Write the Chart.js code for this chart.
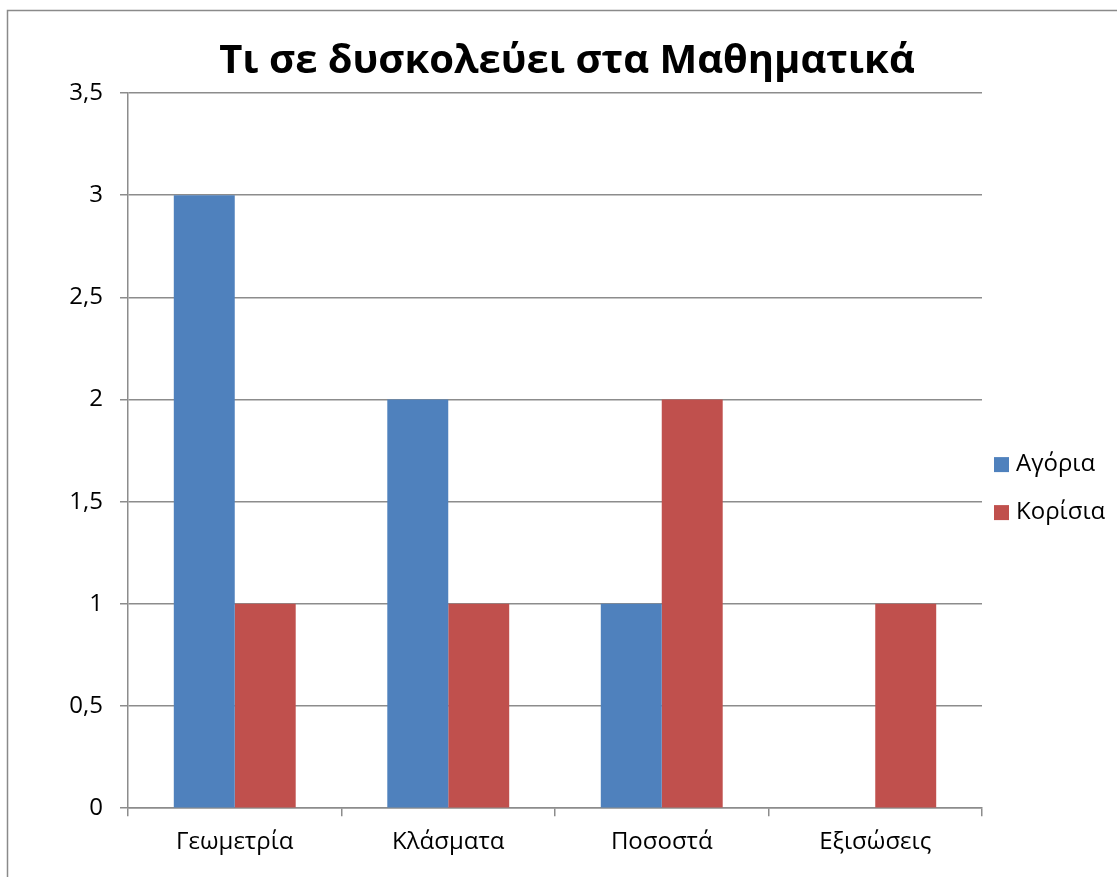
<!DOCTYPE html>
<html lang="el">
<head>
<meta charset="utf-8">
<title>Τι σε δυσκολεύει στα Μαθηματικά</title>
<script src="https://cdn.jsdelivr.net/npm/chart.js@4.4.1/dist/chart.umd.min.js"></script>
<style>
  html, body { margin: 0; padding: 0; background: #fff; }
  #wrap { width: 1117px; height: 877px; }
</style>
</head>
<body>
<div id="wrap"><canvas id="mathChart" width="1117" height="877"></canvas></div>
<script>
// Δεδομένα
const categories = ["Γεωμετρία", "Κλάσματα", "Ποσοστά", "Εξισώσεις"];
const boys = [3, 2, 1, 0];   // Αγόρια
const girls = [1, 1, 2, 1];  // Κορίσια
const seriesNames = ["Αγόρια", "Κορίσια"];
const chartTitle = "Τι σε δυσκολεύει στα Μαθηματικά";

const FONT = "'Open Sans', 'DejaVu Sans', sans-serif";
const GRID = "#8c8c8c";

// περίγραμμα γύρω από το γράφημα
const frame = {
  id: "frame",
  beforeDraw(chart) {
    const ctx = chart.ctx;
    ctx.save();
    ctx.fillStyle = "#fff";
    ctx.fillRect(0, 0, chart.width, chart.height);
    ctx.strokeStyle = "#8a8a8a";
    ctx.lineWidth = 1.5;
    ctx.strokeRect(7.5, 10.5, chart.width + 20, chart.height + 20);
    ctx.restore();
  }
};

// υπόμνημα δεξιά, στο κενό που κρατά ο άξονας "side"
const sideLegend = {
  id: "sideLegend",
  afterDraw(chart) {
    const ctx = chart.ctx;
    const area = chart.chartArea;
    const mid = (area.top + area.bottom) / 2;
    ctx.save();
    ctx.font = "24px " + FONT;
    ctx.textBaseline = "middle";
    ctx.textAlign = "left";
    chart.data.datasets.forEach((ds, i) => {
      const cy = mid + 14 + i * 48;
      ctx.fillStyle = ds.backgroundColor;
      ctx.fillRect(area.right + 12, cy - 7.5, 15, 15);
      ctx.fillStyle = "#000";
      ctx.fillText(ds.label, area.right + 34, cy);
    });
    ctx.restore();
  }
};

const data = {
  labels: categories,
  datasets: [
    {
      label: seriesNames[0],
      data: boys,
      backgroundColor: "#4f81bd",
      borderWidth: 0,
    },
    {
      label: seriesNames[1],
      data: girls,
      backgroundColor: "#c0504d",
      borderWidth: 0,
    },
  ],
};

const config = {
  type: "bar",
  data: data,
  options: {
    responsive: false,
    animation: false,
    layout: {
      padding: { left: 33, right: 16, top: 14, bottom: 8 },
    },
    datasets: {
      bar: {
        categoryPercentage: 0.571,
        barPercentage: 1.0,
      },
    },
    plugins: {
      legend: { display: false },
      title: {
        display: true,
        text: chartTitle,
        color: "#000",
        font: { family: FONT, size: 40, weight: "bold" },
        padding: { top: 24, bottom: 7 },
      },
      tooltip: { enabled: false },
    },
    scales: {
      x: {
        grid: {
          display: true,
          drawOnChartArea: false,
          drawTicks: true,
          tickLength: 8,
          color: GRID,
          lineWidth: 1.5,
        },
        border: { color: GRID, width: 1.5 },
        ticks: {
          color: "#000",
          font: { family: FONT, size: 24 },
          padding: 12,
        },
      },
      y: {
        min: 0,
        max: 3.5,
        afterFit: (scale) => { scale.width = 95; },
        grid: {
          color: GRID,
          lineWidth: 1.5,
          tickLength: 8,
        },
        border: { color: GRID, width: 1.5 },
        ticks: {
          stepSize: 0.5,
          color: "#000",
          font: { family: FONT, size: 24 },
          padding: 17,
          callback: (v) => String(v).replace(".", ","),
        },
      },
      // κενός άξονας: κρατά χώρο για το υπόμνημα
      side: {
        type: "linear",
        position: "right",
        grid: { display: false },
        border: { display: false },
        ticks: { display: false },
        afterFit: (scale) => { scale.width = 119; },
      },
    },
  },
  plugins: [frame, sideLegend],
};

const mathChart = new Chart(document.getElementById("mathChart"), config);
</script>
</body>
</html>
